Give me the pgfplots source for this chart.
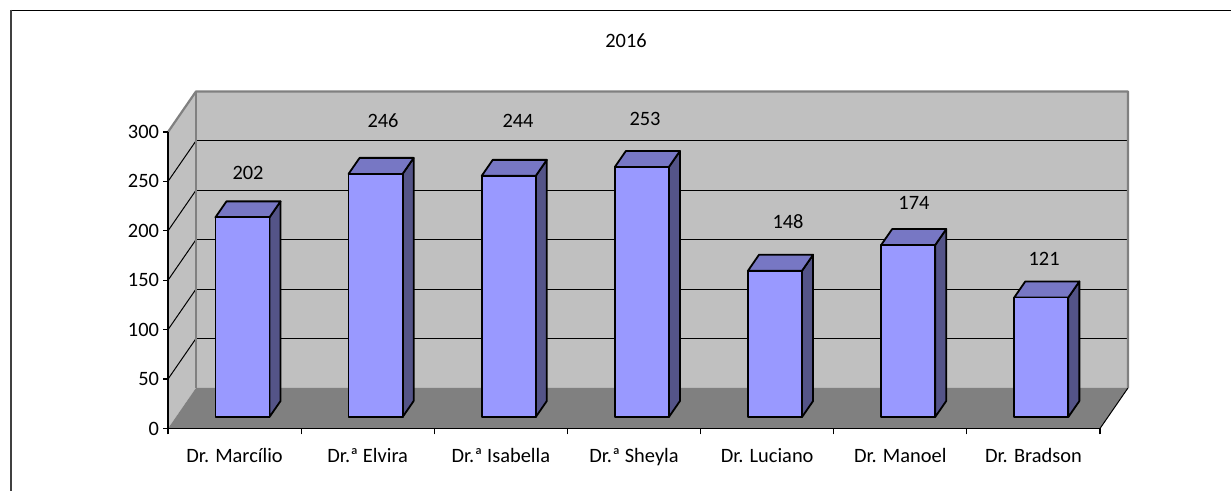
\documentclass[border=0pt]{standalone}
\usepackage{fontspec}
\setmainfont{Carlito}
\usepackage{pgfplots}
\usepackage{pgfplotstable}
\pgfplotsset{compat=1.18}
\definecolor{wallgray}{HTML}{C0C0C0}
\definecolor{floorgray}{HTML}{808080}
\definecolor{edgegray}{HTML}{808080}
\definecolor{barfront}{HTML}{9999FF}
\definecolor{bartop}{HTML}{7777C4}
\definecolor{barside}{HTML}{545488}

\pgfplotstableread{
x     y      lab
0.101 258.8  202
1.115 311.4  246
2.129 311.4  244
3.083 313.2  253
4.157 209.2  148
5.103 228.5  174
6.080 171.5  121
}\labeltable

\begin{document}
\begin{tikzpicture}
\useasboundingbox (0,0) rectangle (615.5pt,245.5pt);
\draw[black, line width=0.7pt] (5.25pt,240.2pt) -- (615.5pt,240.2pt);
\draw[black!75, line width=1pt] (5.25pt,240.6pt) -- (5.25pt,0pt);
\node[font=\fontsize{10.2}{12}\selectfont, anchor=center] at (313pt,225.35pt) {2016};
\begin{axis}[
  at={(84pt,31.25pt)}, anchor=south west,
  scale only axis, width=466pt, height=148.25pt,
  xmin=-0.5, xmax=6.5, ymin=0, ymax=300,
  clip=false, axis on top,
  axis x line*=bottom, axis y line*=left,
  axis line style={-, black, line width=0.6pt},
  tick align=outside,
  ytick={0,50,...,300},
  major tick length=2.5pt,
  minor tick length=3pt,
  tick style={black, line width=0.6pt},
  xtick={0,...,6},
  major x tick style={draw=none},
  minor xtick={-0.5,0.5,...,6.5},
  xticklabels={Dr. Marcílio, Dr.ª Elvira, Dr.ª Isabella, Dr.ª Sheyla, Dr. Luciano, Dr. Manoel, Dr. Bradson},
  xticklabel style={yshift=-4pt},
  yticklabel style={xshift=1.5pt},
  /pgf/number format/assume math mode=true,
  font=\fontsize{10.2}{12}\selectfont,
  ticklabel style={font=\fontsize{10.2}{12}\selectfont},
]
% walls
\addplot[fill=wallgray, draw=none] coordinates {(-0.5,0) (-0.29,41) (-0.29,341) (-0.5,300)} -- cycle;
\addplot[fill=wallgray, draw=none] coordinates {(-0.29,41) (6.71,41) (6.71,341) (-0.29,341)} -- cycle;
% gridlines
\foreach \g in {50,100,150,200,250}{
  \pgfmathsetmacro\gb{\g+41}
  \edef\temp{\noexpand\addplot[black, line width=0.5pt] coordinates {(-0.29,\gb) (6.71,\gb)};
  \noexpand\addplot[black, line width=0.5pt] coordinates {(-0.5,\g) (-0.29,\gb)};}
  \temp
}
% floor
\addplot[fill=floorgray, draw=none] coordinates {(-0.5,0) (6.5,0) (6.71,41) (-0.29,41)} -- cycle;
\addplot[black, line width=0.5pt] coordinates {(6.5,0) (6.71,41)};
% wall edges
\addplot[edgegray, line width=1.1pt, line join=round] coordinates {(-0.5,300) (-0.29,341) (6.71,341) (6.71,41)};
\addplot[edgegray, line width=1.1pt] coordinates {(-0.29,41) (-0.29,341)};
% bars
\foreach \i/\v in {0/202,1/246,2/244,3/253,4/148,5/174,6/121}{
  \pgfmathsetmacro\xa{\i-0.144}
  \pgfmathsetmacro\xb{\i+0.262}
  \pgfmathsetmacro\xc{\i+0.345}
  \pgfmathsetmacro\xd{\i-0.061}
  \pgfmathsetmacro\ya{11.6+\v}
  \pgfmathsetmacro\yb{27.8+\v}
  \edef\temp{%
  \noexpand\addplot[fill=barside, draw=black, line width=0.9pt, line join=round] coordinates {(\xb,11.6) (\xc,27.8) (\xc,\yb) (\xb,\ya)} -- cycle;
  \noexpand\addplot[fill=bartop, draw=black, line width=0.9pt, line join=round] coordinates {(\xa,\ya) (\xb,\ya) (\xc,\yb) (\xd,\yb)} -- cycle;
  \noexpand\addplot[fill=barfront, draw=black, line width=0.9pt, line join=round] coordinates {(\xa,11.6) (\xb,11.6) (\xb,\ya) (\xa,\ya)} -- cycle;}
  \temp
}
% value labels
\addplot[draw=none, mark=none, nodes near coords, point meta=explicit symbolic,
  every node near coord/.append style={anchor=center, font=\fontsize{10.2}{12}\selectfont, black}]
  table[x=x, y=y, meta=lab] {\labeltable};
\end{axis}
\end{tikzpicture}
\end{document}
